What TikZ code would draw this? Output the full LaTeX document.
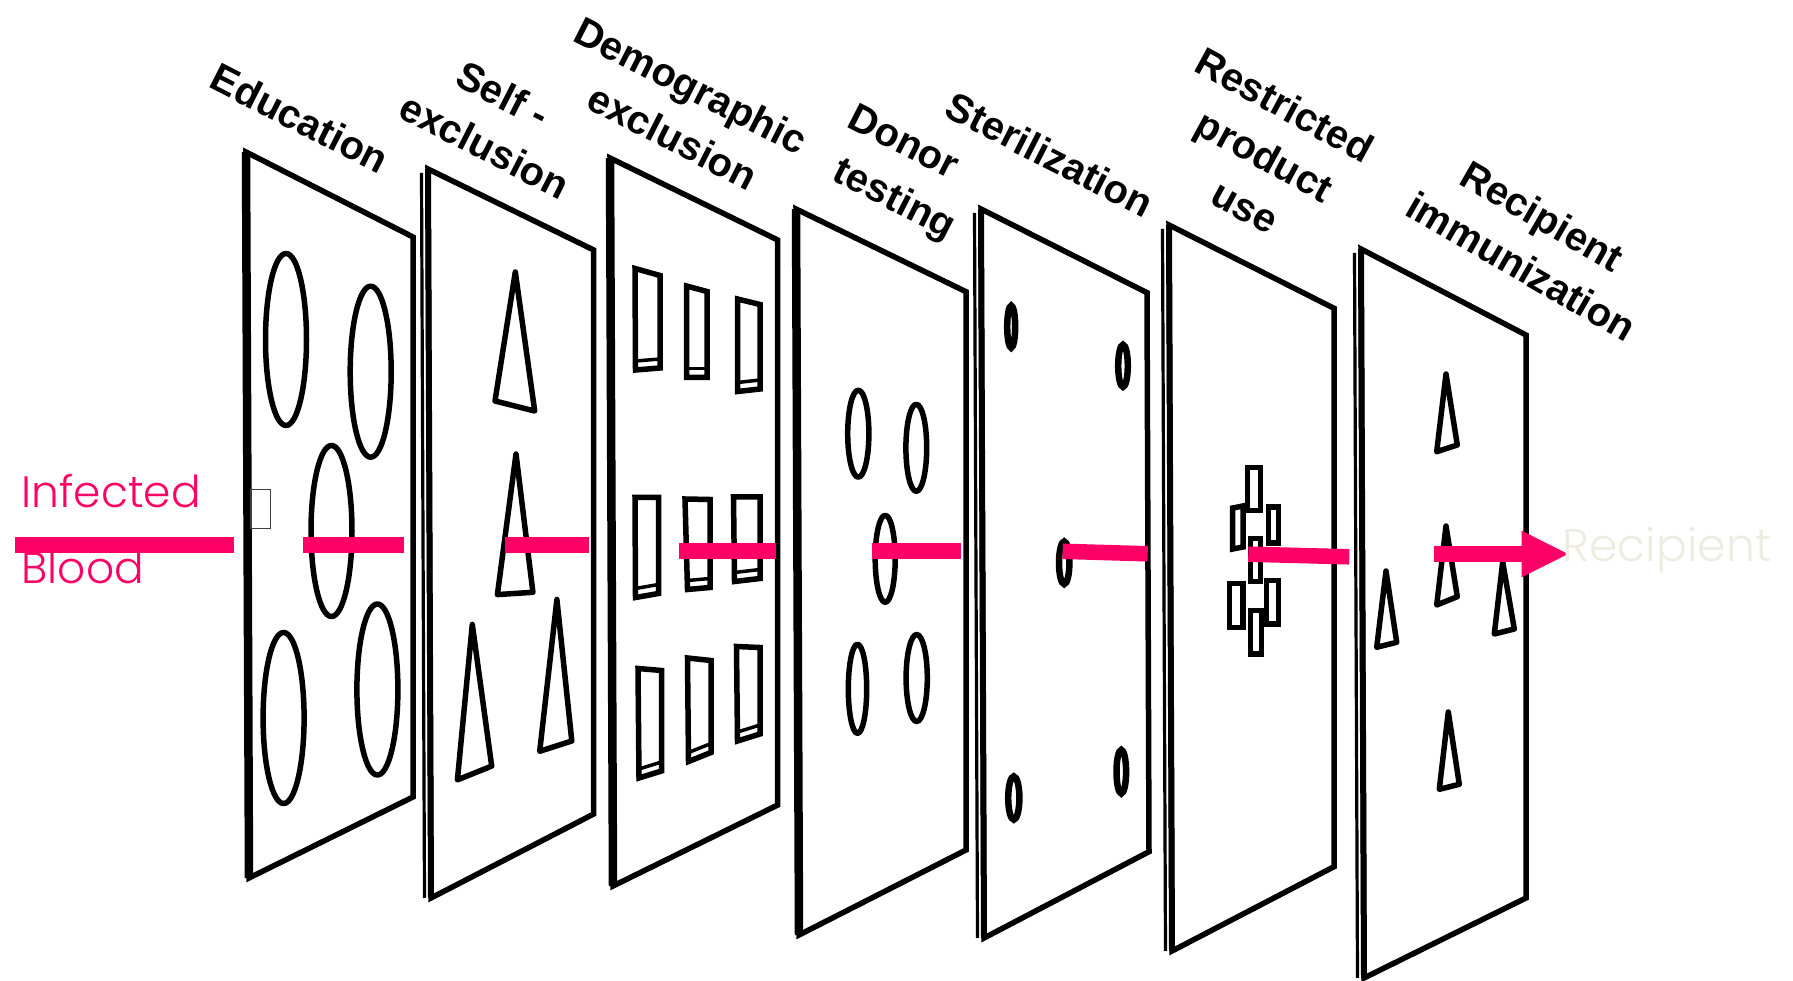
\documentclass[tikz,border=0pt]{standalone}
\usepackage{fontspec}
\setmainfont{Liberation Sans}
\IfFontExistsTF{Poppins Light}{\newfontfamily\popfont{Poppins Light}}{\newfontfamily\popfont{Poppins}}
\definecolor{hotpink}{HTML}{FF0066}
\definecolor{paletext}{HTML}{EEEBE0}
\begin{document}
\begin{tikzpicture}[x=0.1mm,y=-0.1mm,
  frame/.style={line width=0.55mm, line join=miter},
  leftedge/.style={line width=0.85mm},
  thickedge/.style={line width=0.6mm},
  thinedge/.style={line width=0.32mm},
  hole/.style={line width=0.55mm, line join=round},
  smallhole/.style={line width=0.65mm},
  slit/.style={line width=0.35mm},
  flow/.style={hotpink, line width=1.55mm},
  lbl/.style={font=\bfseries\fontsize{11.35}{15.4}\selectfont, align=center, inner sep=0pt},
  pinktext/.style={font=\popfont\fontsize{12.5}{14}\selectfont, text=hotpink, inner sep=0pt},
  paletxt/.style={font=\popfont\fontsize{13}{15}\selectfont, text=paletext, inner sep=0pt}]
\useasboundingbox (0,0) rectangle (1793,981);

% ---------- labels ----------
\node[lbl, rotate=-27] (l1) at (300,118) {Education};
\node[lbl, rotate=-27] (l2) at (494,120) {Self -\hspace*{2pt}\\\hspace*{2pt}exclusion};
\node[lbl, rotate=-27] (l3) at (682,111) {Demographic\hspace*{2pt}\\\hspace*{2pt}exclusion};
\node[lbl, rotate=-27] (l4) at (898,173) {Donor\hspace*{5pt}\\\hspace*{5pt}testing};
\node[lbl, rotate=-27] (l5) at (1050,154.4) {Sterilization};
\node[lbl, rotate=-28.5] (l6) at (1265,155.5) {Restricted\hspace*{4pt}\\product\\\hspace*{4pt}use};
\node[lbl, rotate=-30] (l7) at (1532,241) {Recipient\hspace*{2pt}\\\hspace*{2pt}immunization};

% ---------- panel 1 : Education ----------
\draw[frame] (246,152) -- (413,237) -- (413,797) -- (249,878) -- cycle;
\draw[leftedge] (246,152) -- (249,878);
\draw[hole] (286,339.5) ellipse [x radius=20.5, y radius=86];
\draw[hole] (370.7,371.7) ellipse [x radius=20.5, y radius=85.5];
\draw[hole] (331.5,531) ellipse [x radius=20.5, y radius=85.5];
\draw[hole] (283.6,718) ellipse [x radius=20.5, y radius=85.5];
\draw[hole] (377.4,689.5) ellipse [x radius=20.5, y radius=85.5];
\draw[line width=0.15mm, black!75] (251,489.3) rectangle (270.7,528.3);

% ---------- panel 2 : Self-exclusion ----------
\draw[frame] (428,169) -- (593.7,250) -- (593.7,814) -- (431,898) -- cycle;
\draw[thickedge] (428,169) -- (431,898);
\draw[thinedge] (421.5,173) -- (424.5,898);
\draw[hole] (515.3,272) -- (534.7,411) -- (495,401) -- cycle;
\draw[hole] (516,454) -- (532.9,592.3) -- (497.4,594.6) -- cycle;
\draw[hole] (472.3,624.5) -- (491.7,766.1) -- (457.4,779.9) -- cycle;
\draw[hole] (556.9,599.5) -- (571.8,741) -- (539.7,751.3) -- cycle;

% ---------- panel 3 : Demographic exclusion ----------
\draw[frame] (610,158) -- (777.7,240) -- (777.7,805) -- (613,886) -- cycle;
\draw[leftedge] (610,158) -- (613,886);
\foreach \a/\b/\c/\d/\e/\f/\g/\h in {
  635/268.5/660/275.5/660/368/635.5/370,
  686.5/286/707/291.5/707/377.5/686.5/377.5,
  737.5/299/760/304.5/760/389/737.5/391.5,
  635/497.5/658.5/497.5/658.5/593.5/635.5/597.5,
  685/499/710/499.5/710/587.5/687.5/589.5,
  733.5/497/760/497/760/578.5/734.5/581.5,
  638/668.5/661.5/670.5/661.5/771/639/778,
  687.5/658/711/660.5/711/752.5/688.5/761.5,
  736.5/646.5/760/647.5/760/734/737.5/741}{
  \draw[hole, line join=miter] (\a,\b) -- (\c,\d) -- (\e,\f) -- (\g,\h) -- cycle;
  \draw[slit] (\g,\h-9) -- (\e,\f-9);
}

% ---------- panel 4 : Donor testing ----------
\draw[frame] (796,209) -- (966,291.7) -- (966,850) -- (799,935) -- cycle;
\draw[leftedge] (796,209) -- (799,935);
\draw[hole] (858.3,433.7) ellipse [x radius=10.6, y radius=43.5];
\draw[hole] (916.3,447.8) ellipse [x radius=10.4, y radius=43.5];
\draw[hole] (885.2,558.8) ellipse [x radius=10, y radius=43.5];
\draw[hole] (857.5,688.8) ellipse [x radius=9.2, y radius=44.5];
\draw[hole] (916.7,678) ellipse [x radius=10.6, y radius=43.5];

% ---------- panel 5 : Sterilization ----------
\draw[frame] (981,209) -- (1147,292.7) -- (1149,851.7) -- (984,938) -- cycle;
\draw[thickedge] (981,209) -- (984,938);
\draw[thinedge] (974.5,213) -- (977.5,938);
\draw[smallhole] (1011.2,326.7) ellipse [x radius=4, y radius=21];
\draw[smallhole] (1123,365.8) ellipse [x radius=4.8, y radius=21];
\draw[smallhole] (1064.2,562.8) ellipse [x radius=5.2, y radius=21.3];
\draw[smallhole] (1013.8,798) ellipse [x radius=5.6, y radius=21.6];
\draw[smallhole] (1121.3,771.7) ellipse [x radius=4.8, y radius=21.8];

% ---------- panel 6 : Restricted product use ----------
\draw[frame] (1169,225) -- (1334,308.3) -- (1334,866.7) -- (1172,951) -- cycle;
\draw[thickedge] (1169,225) -- (1172,951);
\draw[thinedge] (1162.5,229) -- (1165.5,951);
\draw[hole, line join=miter] (1247.7,467.7) rectangle (1260.3,510.3);
\draw[hole, line join=miter] (1232.7,508) -- (1243,506) -- (1243,547) -- (1232.7,549) -- cycle;
\draw[hole, line join=miter] (1268.7,507) rectangle (1278.7,543);
\draw[hole, line join=miter] (1250.3,538.7) rectangle (1260.3,581.3);
\draw[hole, line join=miter] (1229.7,583.7) rectangle (1243,627.3);
\draw[hole, line join=miter] (1266.3,580.3) rectangle (1278.7,624);
\draw[hole, line join=miter] (1250.3,610.3) rectangle (1261.3,654);

% ---------- panel 7 : Recipient immunization ----------
\draw[frame] (1361,249) -- (1526,335) -- (1526,898) -- (1364,978) -- cycle;
\draw[thickedge] (1361,249) -- (1364,978);
\draw[thinedge] (1354.5,253) -- (1357.5,978);
\draw[hole] (1446,374) -- (1457.3,445) -- (1436.7,451.7) -- cycle;
\draw[hole] (1446,526) -- (1457.3,596.7) -- (1436.7,605) -- cycle;
\draw[hole] (1386,571) -- (1396.7,642.3) -- (1376.7,647.3) -- cycle;
\draw[hole] (1502.7,562) -- (1514.3,629) -- (1494.3,634) -- cycle;
\draw[hole] (1448.3,712) -- (1459.3,784.3) -- (1439.3,789.3) -- cycle;

% ---------- flow of infected blood ----------
\draw[flow] (15,545) -- (234,545);
\draw[flow] (302.7,545) -- (404,545);
\draw[flow] (505,545) -- (589,545);
\draw[flow] (679,551.2) -- (775.7,551.2);
\draw[flow] (871.7,551.2) -- (961,551.2);
\draw[flow] (1062.7,551.3) -- (1147.7,553.8);
\draw[flow] (1248.3,554.2) -- (1349.3,556.8);
\draw[flow] (1434,554) -- (1523,554);
\fill[hotpink] (1521.7,530.7) -- (1568,554) -- (1521.7,577.3) -- cycle;

\node[pinktext, anchor=base west] (inf) at (21,508) {Infected};
\node[pinktext, anchor=base west] (bld) at (21,584) {Blood};
\node[paletxt, anchor=base west] (rec) at (1562,561.7) {Recipient};
\end{tikzpicture}
\end{document}
